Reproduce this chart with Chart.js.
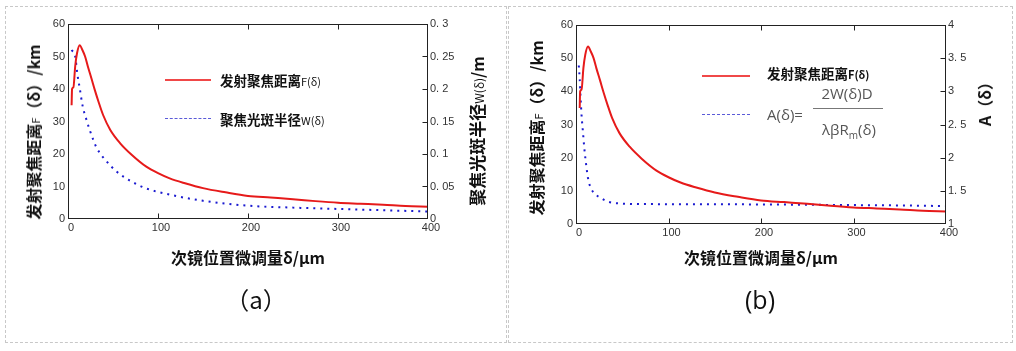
<!DOCTYPE html>
<html>
<head>
<meta charset="utf-8">
<script src="https://cdn.jsdelivr.net/npm/chart.js@4.4.1/dist/chart.umd.min.js"></script>
<style>
body{margin:0;background:#fff;width:1016px;height:351px;position:relative;overflow:hidden;font-family:"Noto Sans CJK SC",sans-serif;color:#111}
.panel{position:absolute;border:1px dashed #c8c8c8;box-sizing:border-box}
canvas{position:absolute;top:0}
.t{position:absolute;white-space:nowrap;transform:translate(-50%,-50%);line-height:1}
.v{transform:translate(-50%,-50%) rotate(-90deg)}
.lg{position:absolute;white-space:nowrap;transform:translateY(-50%);line-height:1}
.b{font-weight:bold}
.ln{position:absolute;height:0}
.f{font-family:"Open Sans",sans-serif;color:#555;font-size:15px}
</style>
</head>
<body>
<div class="panel" style="left:5px;top:6px;width:502px;height:337px"></div>
<div class="panel" style="left:508px;top:6px;width:505px;height:337px"></div>
<canvas id="chartA" width="508" height="351" style="left:0"></canvas>
<canvas id="chartB" width="508" height="351" style="left:508px"></canvas>

<!-- panel (a) titles + legend -->
<div class="t v b" style="left:33px;top:132px;font-size:16px">发射聚焦距离<span style="font-size:11px;font-weight:normal">F</span>（δ）/km</div>
<div class="t v" style="left:476px;top:131px"><span class="b" style="font-size:17px">聚焦光斑半径</span><span style="font-size:12px">W(δ)</span><span class="b" style="font-size:16px">/m</span></div>
<div class="ln" style="left:165px;top:79px;width:46px;border-top:2px solid #f04848"></div>
<div class="lg" style="left:220px;top:79px"><span class="b" style="font-size:13.5px">发射聚焦距离</span><span style="font-size:11px">F(δ)</span></div>
<div class="ln" style="left:165px;top:118px;width:46px;border-top:1px dashed #5a5ad8"></div>
<div class="lg" style="left:220px;top:118px"><span class="b" style="font-size:13.5px">聚焦光斑半径</span><span style="font-size:11px">W(δ)</span></div>
<div class="t" style="left:256px;top:299px;font-size:24px">（a）</div>

<!-- panel (b) titles + legend -->
<div class="t v b" style="left:536px;top:128px;font-size:16px">发射聚焦距离<span style="font-size:11px;font-weight:normal">F</span>（δ）/km</div>
<div class="t v b" style="left:984px;top:100px;font-size:16px">A（δ）</div>
<div class="ln" style="left:702px;top:75px;width:48px;border-top:2px solid #f04848"></div>
<div class="lg" style="left:767px;top:72px"><span class="b" style="font-size:13.5px">发射聚焦距离</span><span class="b" style="font-size:11px">F(δ)</span></div>
<div class="ln" style="left:702px;top:114px;width:48px;border-top:1px dashed #5a5ad8"></div>
<div class="lg f" style="left:767px;top:114px">A(δ)=</div>
<div class="t f" style="left:847px;top:93px">2W(δ)D</div>
<div class="ln" style="left:813px;top:108px;width:70px;border-top:1px solid #777"></div>
<div class="t f" style="left:849px;top:131px">λβR<sub style="font-size:10px">m</sub>(δ)</div>
<div class="t" style="left:760px;top:299px;font-size:25px;font-family:'Open Sans',sans-serif">(b)</div>

<script>
// x positions in µm
const xTicks = [0, 100, 200, 300, 400];
const leftTicks = [0, 10, 20, 30, 40, 50, 60];

// emission focus distance F(δ) /km
const deltaF = [4, 4.5, 6, 8, 10, 13, 16, 19, 22, 26, 30, 34, 39, 47, 58, 71, 87, 100, 113, 130, 150, 175, 200, 225, 250, 275, 300, 325, 350, 375, 400];
const focusF = [35, 40, 40.5, 47, 51, 53.5, 52, 50, 47, 43.3, 39.5, 36, 32, 27.4, 23.3, 19.7, 16.1, 14.1, 12.5, 11, 9.5, 8.2, 7.1, 6.6, 6.1, 5.5, 5.0, 4.7, 4.4, 4.0, 3.8];

// focus spot radius W(δ) /m  (panel a)
const deltaW = [4, 8, 10.5, 13, 16, 20, 24, 28, 32, 43, 54, 67, 86, 113, 150, 200, 250, 300, 350, 400];
const spotW = [0.26, 0.25, 0.222, 0.2015, 0.1755, 0.155, 0.1375, 0.122, 0.109, 0.0885, 0.073, 0.0605, 0.0475, 0.0375, 0.028, 0.0205, 0.0175, 0.0155, 0.0135, 0.0115];
const rightTicksA = [0, 0.05, 0.1, 0.15, 0.2, 0.25, 0.3];
const rightLabelsA = ['0', '0. 05', '0. 1', '0. 15', '0. 2', '0. 25', '0. 3'];

// A(δ) (panel b)
const deltaA = [3, 4, 5, 6, 7.5, 9, 11, 13, 15.5, 20, 26, 35, 47, 80, 150, 200, 250, 300, 350, 400];
const ratioA = [3.39, 3.19, 2.89, 2.64, 2.39, 2.14, 1.89, 1.69, 1.56, 1.46, 1.40, 1.335, 1.31, 1.30, 1.297, 1.295, 1.29, 1.285, 1.28, 1.27];
const rightTicksB = [1, 1.5, 2, 2.5, 3, 3.5, 4];
const rightLabelsB = ['1', '1. 5', '2', '2. 5', '3', '3. 5', '4'];

const RED = '#e61a1a';
const BLUE = '#1a1ad0';
const tickFont = {family: 'Liberation Sans', size: 11};

const pts = (xs, ys) => xs.map((x, i) => ({x: x, y: ys[i]}));

// box + inward tick marks
const frame = {
  id: 'frame',
  afterDraw(chart) {
    const {ctx, chartArea: a, scales} = chart;
    const L = Math.round(a.left) + 0.5, R = Math.round(a.right) - 0.5;
    const T = Math.round(a.top) + 0.5, B = Math.round(a.bottom) - 0.5;
    ctx.save();
    ctx.strokeStyle = '#222';
    ctx.lineWidth = 1;
    ctx.strokeRect(L, T, R - L, B - T);
    ctx.beginPath();
    scales.x.ticks.forEach(t => {
      if (t.value <= scales.x.min || t.value >= scales.x.max) return;
      const px = Math.round(scales.x.getPixelForValue(t.value)) + 0.5;
      ctx.moveTo(px, T); ctx.lineTo(px, T + 5);
      ctx.moveTo(px, B); ctx.lineTo(px, B - 5);
    });
    scales.y1.ticks.forEach(t => {
      if (t.value <= scales.y1.min || t.value >= scales.y1.max) return;
      const py = Math.round(scales.y1.getPixelForValue(t.value)) + 0.5;
      ctx.moveTo(R, py); ctx.lineTo(R - 5, py);
    });
    ctx.stroke();
    ctx.restore();
  }
};

function makeChart(id, blueData, rMin, rMax, rTicks, rLabels, sizes) {
  return new Chart(document.getElementById(id).getContext('2d'), {
    type: 'line',
    data: {
      datasets: [{
        data: pts(deltaF, focusF),
        yAxisID: 'y',
        borderColor: RED,
        borderWidth: 2,
        pointRadius: 0,
        cubicInterpolationMode: 'monotone'
      },
      {
        data: blueData,
        yAxisID: 'y1',
        borderColor: BLUE,
        borderWidth: 2,
        borderDash: [2, 5],
        pointRadius: 0,
        cubicInterpolationMode: 'monotone'
      }]
    },
    options: {
      responsive: false,
      animation: false,
      layout: {padding: {top: sizes.top, left: 0, right: 0, bottom: 0}},
      plugins: {legend: {display: false}, tooltip: {enabled: false}},
      scales: {
        x: {
          type: 'linear', min: 0, max: 400,
          afterBuildTicks: s => { s.ticks = xTicks.map(v => ({value: v})); },
          grid: {display: false, drawTicks: false},
          border: {display: false},
          ticks: {color: '#333', font: tickFont, padding: 2, labelOffset: 3, maxRotation: 0},
          title: {
            display: true, text: '次镜位置微调量δ/μm', color: '#111',
            font: {family: 'Noto Sans CJK SC', size: 16, weight: 'bold'},
            padding: {top: 0, bottom: 83}
          },
          afterFit: s => { s.height = sizes.xh; }
        },
        y: {
          position: 'left', min: 0, max: 60,
          afterBuildTicks: s => { s.ticks = leftTicks.map(v => ({value: v})); },
          grid: {display: false, drawTicks: false},
          border: {display: false},
          ticks: {color: '#333', font: tickFont, padding: 3},
          afterFit: s => { s.width = sizes.lw; }
        },
        y1: {
          position: 'right', min: rMin, max: rMax,
          afterBuildTicks: s => { s.ticks = rTicks.map(v => ({value: v})); },
          grid: {display: false, drawTicks: false},
          border: {display: false},
          ticks: {color: '#333', font: tickFont, padding: 2, callback: (v, i) => rLabels[i]},
          afterFit: s => { s.width = sizes.rw; }
        }
      }
    },
    plugins: [frame]
  });
}

var chartA = makeChart('chartA', pts(deltaW, spotW), 0, 0.3, rightTicksA, rightLabelsA,
  {top: 24, xh: 132, lw: 68, rw: 80});
var chartB = makeChart('chartB', pts(deltaA, ratioA), 1, 4, rightTicksB, rightLabelsB,
  {top: 25, xh: 127, lw: 68, rw: 70});
</script>
</body>
</html>
